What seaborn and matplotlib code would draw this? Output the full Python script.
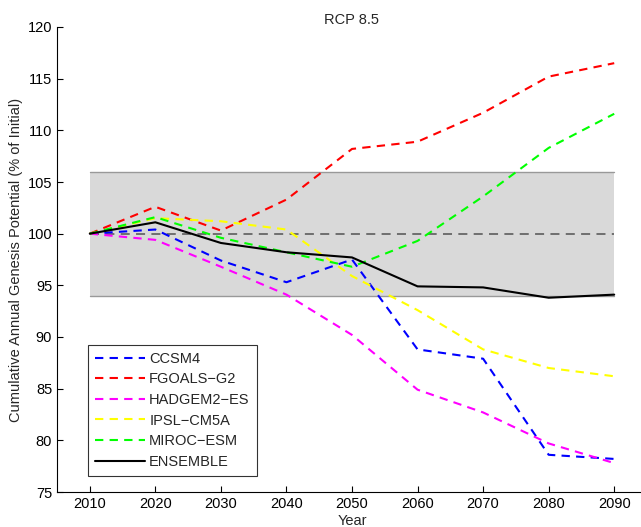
import matplotlib
matplotlib.use("Agg")
import matplotlib.pyplot as plt
import seaborn as sns
import pandas as pd

years = [2010, 2020, 2030, 2040, 2050, 2060, 2070, 2080, 2090]
ccsm4 = [100, 100.4, 97.4, 95.3, 97.5, 88.8, 87.9, 78.6, 78.2]
fgoals = [100, 102.6, 100.3, 103.3, 108.2, 108.9, 111.7, 115.2, 116.5]
hadgem = [100, 99.4, 96.8, 94.1, 90.2, 84.9, 82.7, 79.7, 77.8]
ipsl = [100, 101.5, 101.2, 100.4, 95.9, 92.6, 88.8, 87.0, 86.2]
miroc = [100, 101.6, 99.6, 98.2, 96.8, 99.3, 103.6, 108.3, 111.6]
ensemble = [100, 101.1, 99.1, 98.2, 97.7, 94.9, 94.8, 93.8, 94.1]

names = ["CCSM4", "FGOALS\u2212G2", "HADGEM2\u2212ES", "IPSL\u2212CM5A", "MIROC\u2212ESM", "ENSEMBLE"]
series = [ccsm4, fgoals, hadgem, ipsl, miroc, ensemble]
colors = ["#0000ff", "#ff0000", "#ff00ff", "#ffff00", "#00ff00", "#000000"]

band_low, band_high = 94, 106
xticks = list(range(2010, 2091, 10))
yticks = list(range(75, 121, 5))

rows = []
for n, s in zip(names, series):
    for y, v in zip(years, s):
        rows.append({"Year": y, "Value": v, "Model": n})
df = pd.DataFrame(rows)

sns.set_style("white")
plt.rcParams["font.family"] = ["Liberation Sans", "DejaVu Sans"]
plt.rcParams["font.size"] = 10.5

fig = plt.figure(figsize=(6.41, 5.27), dpi=100)
ax = fig.add_axes([57 / 641, 1 - 492 / 527, (647 - 57) / 641, (492 - 27) / 527])

ax.fill_between([2010, 2090], band_low, band_high, color="#d9d9d9", lw=0, zorder=0)
ax.plot([2010, 2090], [band_low, band_low], color="#999999", lw=1, zorder=1)
ax.plot([2010, 2090], [band_high, band_high], color="#999999", lw=1, zorder=1)
ax.plot([2010, 2090], [100, 100], color="#666666", lw=1.3, dashes=(5, 3.5), zorder=1)

palette = dict(zip(names, colors))
dashes = {n: (4, 3) for n in names[:-1]}
dashes["ENSEMBLE"] = ""
sns.lineplot(data=df, x="Year", y="Value", hue="Model", style="Model",
             palette=palette, dashes=dashes, hue_order=names, style_order=names,
             lw=1.5, ax=ax, zorder=3)

ax.set_xlim(2005, 2095)
ax.set_ylim(75, 120)
ax.set_xticks(xticks)
ax.set_yticks(yticks)
ax.tick_params(direction="in", length=4, width=0.8, labelsize=10.5, colors="black",
               bottom=True, left=True)
for side in ["top", "right"]:
    ax.spines[side].set_visible(False)
for side in ["left", "bottom"]:
    ax.spines[side].set_color("black")
    ax.spines[side].set_linewidth(0.8)
ax.set_xlabel("Year", fontsize=10.5, labelpad=2)
ax.set_ylabel("Cumulative Annual Genesis Potential (% of Initial)", fontsize=10.5, labelpad=3)
ax.set_title("RCP 8.5", fontsize=10.5, pad=2)

leg = ax.legend(loc="lower left", bbox_to_anchor=((88 - 57) / 590, (492 - 476) / 465),
                borderaxespad=0, frameon=True, fancybox=False, edgecolor="black",
                handlelength=3.4, handletextpad=0.3, labelspacing=0.45, fontsize=10.5,
                borderpad=0.5)
leg.get_frame().set_linewidth(0.8)

fig.savefig("out.png", dpi=100)
